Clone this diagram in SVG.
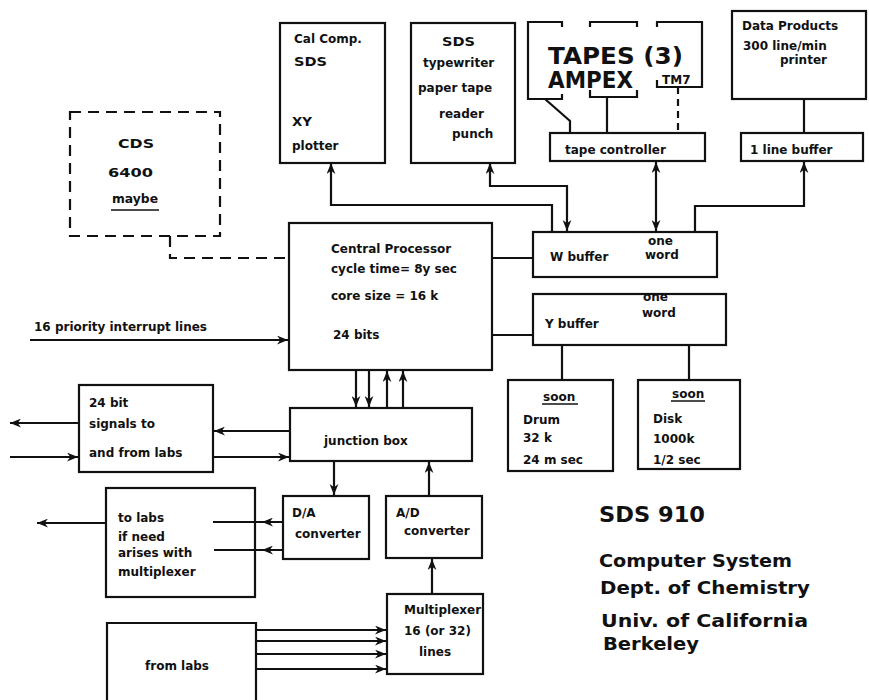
<svg xmlns="http://www.w3.org/2000/svg" width="869" height="700" viewBox="0 0 869 700">
<style>
.b{fill:none;stroke:#111;stroke-width:2.2}
.c{fill:none;stroke:#111;stroke-width:2.2}
.d{stroke-dasharray:11 7}
.t{font-family:"DejaVu Sans","Liberation Sans",sans-serif;font-weight:bold;font-size:12px;fill:#111}
.big{font-family:"DejaVu Sans","Liberation Sans",sans-serif;font-weight:bold;fill:#111}
</style>
<defs>
<marker id="ah" viewBox="0 0 10 8" refX="10" refY="4" markerWidth="11" markerHeight="9" markerUnits="userSpaceOnUse" orient="auto-start-reverse">
<path d="M0,0 L10,4 L0,8 L3,4 z" fill="#111"/>
</marker>
</defs>
<rect width="869" height="700" fill="#fff"/>

<g id="connectors">
<path class="c d" d="M170,236 L170,258 L289,258"/>
<path class="c" d="M552,232 L552,205 L331,205 L331,163" marker-end="url(#ah)"/>
<path class="c" d="M567,231 L567,186 L490,186 L490,163" marker-start="url(#ah)" marker-end="url(#ah)"/>
<path class="c" d="M656,231 L656,162" marker-start="url(#ah)" marker-end="url(#ah)"/>
<path class="c" d="M695,232 L695,206 L804,206 L804,162" marker-end="url(#ah)"/>
<path class="c" d="M545,99 L570,121 L570,133"/>
<path class="c" d="M607,97 L607,133"/>
<path class="c d" d="M678,87 L678,133" style="stroke-dasharray:7 5"/>
<path class="c" d="M804,99 L804,133"/>
<path class="c" d="M492,258 L533,258"/>
<path class="c" d="M492,335 L533,335"/>
<path class="c" d="M562,345 L562,380"/>
<path class="c" d="M689,345 L689,380"/>
<path class="c" d="M30,340 L288,340" marker-end="url(#ah)"/>
<path class="c" d="M356,370 L356,407" marker-end="url(#ah)"/>
<path class="c" d="M369,370 L369,407" marker-end="url(#ah)"/>
<path class="c" d="M387,408 L387,371" marker-end="url(#ah)"/>
<path class="c" d="M403,408 L403,371" marker-end="url(#ah)"/>
<path class="c" d="M290,431 L214,431" marker-end="url(#ah)"/>
<path class="c" d="M213,457 L289,457" marker-end="url(#ah)"/>
<path class="c" d="M79,423 L10,423" marker-end="url(#ah)"/>
<path class="c" d="M10,457 L78,457" marker-end="url(#ah)"/>
<path class="c" d="M334,461 L334,495" marker-end="url(#ah)"/>
<path class="c" d="M429,496 L429,462" marker-end="url(#ah)"/>
<path class="c" d="M283,522 L262,522 L213,522" marker-mid="url(#ah)"/>
<path class="c" d="M283,550 L262,550 L214,550" marker-mid="url(#ah)"/>
<path class="c" d="M106,523 L37,523" marker-end="url(#ah)"/>
<path class="c" d="M432,594 L432,559" marker-end="url(#ah)"/>
<path class="c" d="M256,630 L386,630" marker-end="url(#ah)"/>
<path class="c" d="M256,641 L386,641" marker-end="url(#ah)"/>
<path class="c" d="M256,654 L386,654" marker-end="url(#ah)"/>
<path class="c" d="M256,669 L386,669" marker-end="url(#ah)"/>
</g>

<g id="cds">
<rect class="b d" x="70" y="112" width="150" height="124"/>
<text class="t" x="118" y="148" font-size="14" textLength="36" lengthAdjust="spacingAndGlyphs">CDS</text>
<text class="t" x="108" y="177" font-size="14" textLength="45" lengthAdjust="spacingAndGlyphs">6400</text>
<text class="t" x="112" y="203" font-size="13" textLength="46" lengthAdjust="spacingAndGlyphs">maybe</text>
<path class="c" d="M111,210 L159,210" style="stroke-width:1.5"/>
</g>

<g id="calcomp">
<rect class="b" x="280" y="23" width="105" height="140"/>
<text class="t" x="294" y="43">Cal Comp.</text>
<text class="t" x="294" y="66" font-size="13" textLength="33" lengthAdjust="spacingAndGlyphs">SDS</text>
<text class="t" x="292" y="126" font-size="13" textLength="20" lengthAdjust="spacingAndGlyphs">XY</text>
<text class="t" x="292" y="150">plotter</text>
</g>

<g id="typewriter">
<rect class="b" x="411" y="23" width="104" height="140"/>
<text class="t" x="442" y="46" font-size="13" textLength="33" lengthAdjust="spacingAndGlyphs">SDS</text>
<text class="t" x="423" y="67">typewriter</text>
<text class="t" x="418" y="92">paper tape</text>
<text class="t" x="439" y="118">reader</text>
<text class="t" x="452" y="138">punch</text>
</g>

<g id="tapes">
<path class="c" d="M562,27 L562,22 L528,22 L528,99 L562,99 L562,94"/>
<path class="c" d="M590,27 L590,22 L637,22 L637,27"/>
<path class="c" d="M590,90 L590,97 L637,97 L637,90"/>
<path class="c" d="M657,27 L657,22 L702,22 L702,87 L657,87 L657,80"/>
<text class="big" x="548" y="64" font-size="23" textLength="135" lengthAdjust="spacingAndGlyphs">TAPES  (3)</text>
<text class="big" x="548" y="88" font-size="23" textLength="85" lengthAdjust="spacingAndGlyphs">AMPEX</text>
<text class="t" x="662" y="84" font-size="11">TM7</text>
</g>

<g id="tapecontroller">
<rect class="b" x="550" y="133" width="155" height="28"/>
<text class="t" x="565" y="154">tape controller</text>
</g>

<g id="dataproducts">
<rect class="b" x="732" y="11" width="134" height="88"/>
<text class="t" x="742" y="30">Data Products</text>
<text class="t" x="743" y="50">300 line/min</text>
<text class="t" x="780" y="64">printer</text>
</g>

<g id="linebuffer">
<rect class="b" x="741" y="133" width="122" height="28"/>
<text class="t" x="750" y="154">1 line buffer</text>
</g>

<g id="wbuffer">
<rect class="b" x="533" y="232" width="184" height="45"/>
<text class="t" x="550" y="261">W buffer</text>
<text class="t" x="648" y="245">one</text>
<text class="t" x="645" y="259">word</text>
</g>

<g id="cp">
<rect class="b" x="289" y="223" width="203" height="147"/>
<text class="t" x="331" y="253" font-size="13">Central Processor</text>
<text class="t" x="331" y="273" font-size="13">cycle time= 8y sec</text>
<text class="t" x="331" y="300" font-size="13">core size = 16 k</text>
<text class="t" x="333" y="339" font-size="13">24 bits</text>
</g>

<g id="interrupt">
<text class="t" x="34" y="331">16 priority interrupt lines</text>
</g>

<g id="ybuffer">
<rect class="b" x="533" y="294" width="193" height="51"/>
<text class="t" x="545" y="328">Y buffer</text>
<text class="t" x="643" y="301">one</text>
<text class="t" x="642" y="317">word</text>
</g>

<g id="drum">
<rect class="b" x="508" y="380" width="105" height="91"/>
<text class="t" x="543" y="401">soon</text>
<path class="c" d="M542,404 L578,404" style="stroke-width:1.5"/>
<text class="t" x="523" y="424">Drum</text>
<text class="t" x="523" y="442">32 k</text>
<text class="t" x="523" y="464">24 m sec</text>
</g>

<g id="disk">
<rect class="b" x="638" y="380" width="102" height="89"/>
<text class="t" x="672" y="398">soon</text>
<path class="c" d="M671,401 L705,401" style="stroke-width:1.5"/>
<text class="t" x="653" y="423">Disk</text>
<text class="t" x="653" y="443">1000k</text>
<text class="t" x="653" y="464">1/2 sec</text>
</g>

<g id="signals">
<rect class="b" x="79" y="385" width="134" height="87"/>
<text class="t" x="89" y="407">24 bit</text>
<text class="t" x="89" y="428">signals to</text>
<text class="t" x="89" y="457">and from labs</text>
</g>

<g id="junction">
<rect class="b" x="290" y="408" width="182" height="53"/>
<text class="t" x="324" y="445">junction box</text>
</g>

<g id="da">
<rect class="b" x="283" y="496" width="86" height="63"/>
<text class="t" x="292" y="517">D/A</text>
<text class="t" x="295" y="538">converter</text>
</g>

<g id="ad">
<rect class="b" x="386" y="496" width="96" height="62"/>
<text class="t" x="396" y="517">A/D</text>
<text class="t" x="404" y="535">converter</text>
</g>

<g id="tolabs">
<rect class="b" x="106" y="488" width="149" height="109"/>
<text class="t" x="118" y="522">to labs</text>
<text class="t" x="118" y="541">if need</text>
<text class="t" x="118" y="557">arises with</text>
<text class="t" x="118" y="576">multiplexer</text>
</g>

<g id="mux">
<rect class="b" x="387" y="594" width="96" height="80"/>
<text class="t" x="404" y="614">Multiplexer</text>
<text class="t" x="404" y="635">16 (or 32)</text>
<text class="t" x="419" y="656">lines</text>
</g>

<g id="fromlabs">
<path class="b" d="M107,705 L107,623 L256,623 L256,705"/>
<text class="t" x="145" y="670">from labs</text>
</g>

<g id="title">
<text class="big" x="599" y="522" font-size="22" textLength="106" lengthAdjust="spacingAndGlyphs">SDS 910</text>
<text class="big" x="599" y="567" font-size="18" textLength="193" lengthAdjust="spacingAndGlyphs">Computer  System</text>
<text class="big" x="600" y="594" font-size="18" textLength="210" lengthAdjust="spacingAndGlyphs">Dept. of Chemistry</text>
<text class="big" x="601" y="627" font-size="18" textLength="207" lengthAdjust="spacingAndGlyphs">Univ. of California</text>
<text class="big" x="603" y="650" font-size="18" textLength="96" lengthAdjust="spacingAndGlyphs">Berkeley</text>
</g>
</svg>
